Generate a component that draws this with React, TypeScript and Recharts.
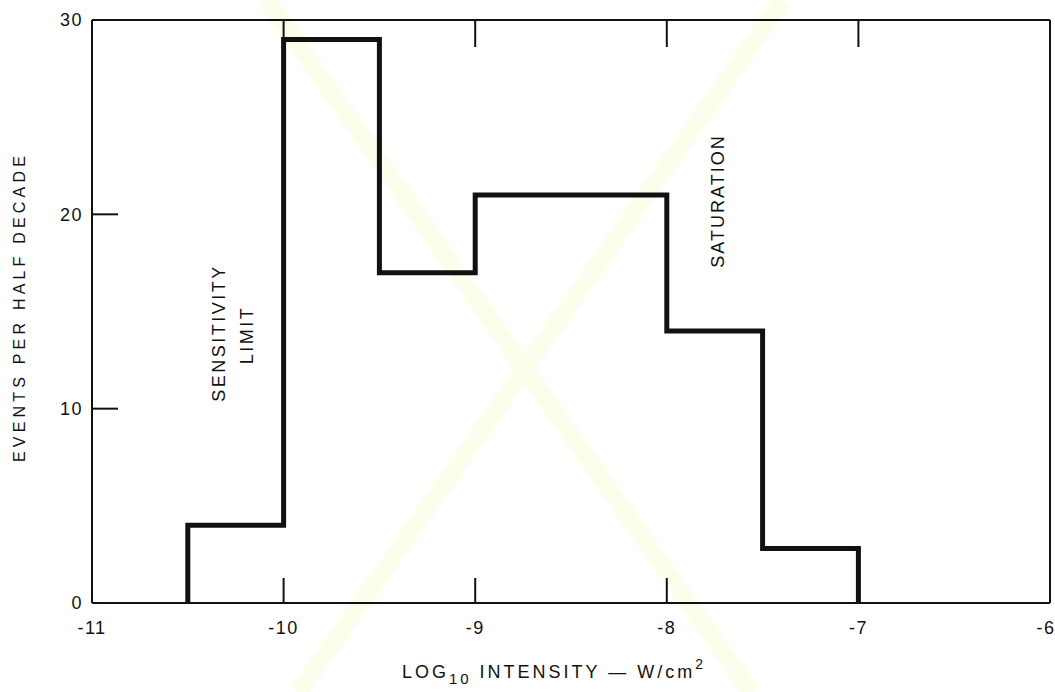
import React from 'react';
import { LineChart, Line, XAxis, YAxis } from 'recharts';

// half-decade bin edges (log10 W/cm^2) and events per bin
const binEdges = [-10.5, -10, -9.5, -9, -8.5, -8, -7.5, -7];
const binCounts = [4, 29, 17, 21, 21, 14, 2.8];

const xTicks = [-11, -10, -9, -8, -7, -6];
const yTicks = [0, 10, 20, 30];

// step outline: rise from zero at the first edge, drop to zero at the last
const data = [
  { x: binEdges[0], y: 0 },
  ...binCounts.map((c, i) => ({ x: binEdges[i], y: c })),
  { x: binEdges[binEdges.length - 1], y: 0 },
];

const W = 1055;
const H = 692;
const font = '"Liberation Sans", Arial, sans-serif';
const ink = '#111';

const tickStyle = { fill: ink, fontSize: 18, fontFamily: font, letterSpacing: 1.5 };

export default function App() {
  return (
    <div style={{ position: 'absolute', left: 0, top: 0, width: W, height: H, background: '#fff' }}>
      <svg
        width={W}
        height={H}
        style={{ position: 'absolute', left: 0, top: 0, pointerEvents: 'none' }}
      >
        {/* faint scan watermark */}
        <g stroke="#fdfdec" strokeWidth={18}>
          <line x1={783} y1={0} x2={299} y2={692} />
          <line x1={267} y1={0} x2={751} y2={692} />
        </g>
      </svg>
      <div style={{ position: 'absolute', left: 0, top: 0, fontFamily: font }}>
        <LineChart
          width={W}
          height={H}
          data={data}
          margin={{ top: 19, right: 4, bottom: 29, left: 32 }}
        >
          <XAxis
            xAxisId="bottom"
            dataKey="x"
            type="number"
            domain={[-11, -6]}
            ticks={xTicks}
            height={60}
            stroke={ink}
            strokeWidth={2}
            fontSize={18}
            tickSize={-25}
            tickMargin={43}
            tick={tickStyle}
            tickFormatter={(v: number) => (v < 0 ? '-' + Math.abs(v) : String(v))}
          />
          <XAxis
            xAxisId="top"
            orientation="top"
            dataKey="x"
            type="number"
            domain={[-11, -6]}
            ticks={xTicks}
            height={1}
            stroke={ink}
            strokeWidth={2}
            tickSize={-27}
            tickFormatter={() => ''}
          />
          <YAxis
            yAxisId="left"
            type="number"
            domain={[0, 30]}
            ticks={yTicks}
            width={60}
            stroke={ink}
            strokeWidth={2}
            fontSize={18}
            tickSize={-26}
            tickMargin={35}
            tick={tickStyle}
          />
          <YAxis
            yAxisId="right"
            orientation="right"
            type="number"
            domain={[0, 30]}
            ticks={yTicks}
            width={1}
            stroke={ink}
            strokeWidth={2}
            tickSize={-25}
            tickFormatter={() => ''}
          />
          <Line
            xAxisId="bottom"
            yAxisId="left"
            dataKey="y"
            type="stepAfter"
            stroke={ink}
            strokeWidth={5}
            strokeLinejoin="miter"
            dot={false}
            isAnimationActive={false}
          />
        </LineChart>
      </div>

      <svg
        width={W}
        height={H}
        style={{ position: 'absolute', left: 0, top: 0, pointerEvents: 'none' }}
      >
        <g fill={ink} fontFamily={font} fontSize={18} letterSpacing={2.5}>
          <text transform="translate(25,307) rotate(-90)" textAnchor="middle" fontSize={16} letterSpacing={4.2}>
            EVENTS PER HALF DECADE
          </text>
          <text x={554} y={678} textAnchor="middle" letterSpacing={3}>
            LOG<tspan fontSize={15} dy={6}>10</tspan>
            <tspan dy={-6}> INTENSITY — W/cm</tspan>
            <tspan fontSize={14} dy={-9}>2</tspan>
          </text>
          <text transform="translate(225,333) rotate(-90)" textAnchor="middle">
            SENSITIVITY
          </text>
          <text transform="translate(253,335) rotate(-90)" textAnchor="middle">
            LIMIT
          </text>
          <text transform="translate(724,201) rotate(-90)" textAnchor="middle" letterSpacing={2}>
            SATURATION
          </text>
        </g>
      </svg>
    </div>
  );
}
